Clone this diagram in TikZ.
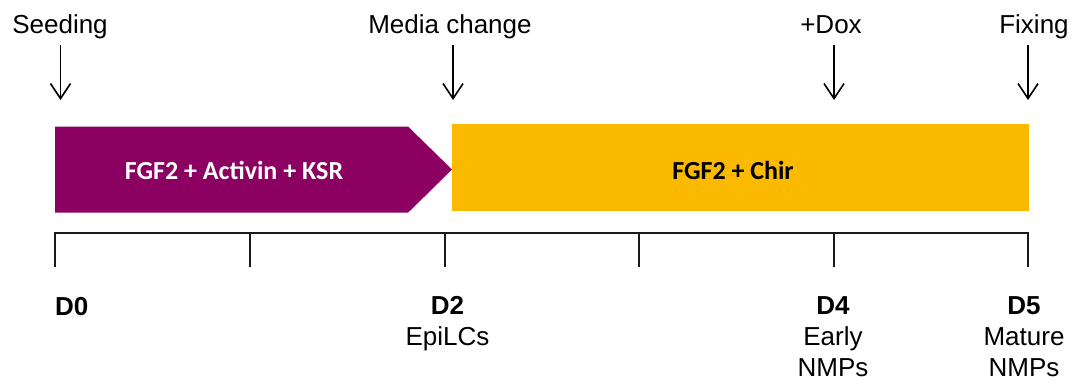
\documentclass[tikz,border=0pt]{standalone}
\usepackage{fontspec}
\setmainfont{Liberation Sans}
\newfontfamily\boxfont{Carlito}
\usetikzlibrary{arrows.meta}
\definecolor{purp}{HTML}{8C0062}
\definecolor{orng}{HTML}{FBBA00}
\definecolor{tline}{HTML}{1A1A1A}
\tikzset{
  lbl/.style={inner sep=0pt, font=\fontsize{26}{31}\selectfont, text=black},
  dlbl/.style={inner sep=0pt, font=\fontsize{26}{31}\selectfont, align=center, anchor=north, text=black},
  boxtxt/.style={inner sep=0pt, anchor=base, font=\boxfont\bfseries\fontsize{26}{31}\selectfont},
  arr/.style={draw=black, line width=1.6pt, -{Straight Barb[length=15pt,width=20pt,line width=1.6pt]}},
  tl/.style={draw=tline, line width=2pt}
}
\begin{document}
\begin{tikzpicture}[x=1pt,y=-1pt]
\useasboundingbox (0,0) rectangle (1081,383);
% top labels
\node[lbl, anchor=base] (seed) at (60,33) {Seeding};
\node[lbl, anchor=base] (media) at (450,33) {Media change};
\node[lbl, anchor=base] (dox) at (831,33) {+Dox};
\node[lbl, anchor=base] (fix) at (1034,33) {Fixing};
% arrows
\coordinate (s1) at (60.5,45); \coordinate (e1) at (60.5,100);
\coordinate (s2) at (453,45); \coordinate (e2) at (453,100);
\coordinate (s3) at (834,45); \coordinate (e3) at (834,100);
\coordinate (s4) at (1028,45); \coordinate (e4) at (1028,100);
\draw[arr] (s1) -- (e1);
\draw[arr] (s2) -- (e2);
\draw[arr] (s3) -- (e3);
\draw[arr] (s4) -- (e4);
% medium boxes
\fill[purp] (55,126.5) -- (408,126.5) -- (452,169.5) -- (408,212.7) -- (55,212.7) -- cycle;
\fill[orng] (452,124) rectangle (1029,211);
\node[boxtxt, text=white] (m1) at (234,179) {FGF2 + Activin + KSR};
\node[boxtxt, text=black] (m2) at (733,179) {FGF2 + Chir};
% timeline
\coordinate (t0) at (55,232.7);
\coordinate (t5) at (1028,232.7);
\draw[tl] (55,267) -- (t0) -- (t5) -- (1028,267);
\foreach \x in {250,445,639,834} \draw[tl] (\x,232.7) -- (\x,267);
% day labels
\node[lbl, anchor=base west, font=\fontsize{26}{31}\selectfont\bfseries] (d0) at (55,315) {D0};
\node[dlbl] (d2) at (447.5,296.5) {\textbf{D2}\\EpiLCs};
\node[dlbl] (d4) at (833,296.5) {\textbf{D4}\\Early\\NMPs};
\node[dlbl] (d5) at (1024,296.5) {\textbf{D5}\\Mature\\NMPs};
\end{tikzpicture}
\end{document}
